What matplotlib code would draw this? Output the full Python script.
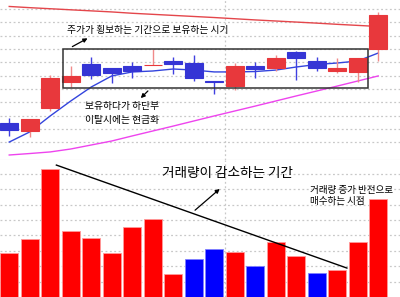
import matplotlib
matplotlib.use('Agg')
import matplotlib.pyplot as plt
from matplotlib.patches import Rectangle

plt.rcParams['font.family'] = ['Noto Sans CJK KR', 'DejaVu Sans']

# 캔들 데이터 (시가, 고가, 저가, 종가)
opens  = [5645, 5585, 5760, 5950, 6090, 6060, 6070, 6080, 6110, 6095, 5960, 5920, 6070, 6060, 6180, 6110, 6035, 6030, 6200]
highs  = [5680, 5675, 6005, 6070, 6140, 6060, 6100, 6200, 6140, 6155, 5960, 6095, 6100, 6155, 6185, 6140, 6130, 6130, 6480]
lows   = [5550, 5540, 5735, 5915, 5975, 5945, 5980, 6080, 6010, 5960, 5862, 5890, 5980, 6035, 5970, 6035, 6020, 5950, 6110]
closes = [5590, 5675, 5980, 6000, 6005, 6020, 6035, 6080, 6090, 5980, 5955, 6070, 6050, 6130, 6130, 6060, 6060, 6130, 6455]

# 이동평균선
ma_short = [5502, 5578, 5698, 5810, 5915, 5998, 6028, 6035, 6050, 6042, 6028, 6028, 6031, 6042, 6065, 6084, 6095, 6110, 6170]
ma_mid   = [5405, 5416, 5428, 5450, 5480, 5510, 5548, 5585, 5622, 5660, 5698, 5735, 5772, 5810, 5848, 5885, 5922, 5960, 5998]
ma_long  = [6519, 6510, 6502, 6494, 6486, 6478, 6468, 6460, 6452, 6444, 6436, 6427, 6418, 6410, 6402, 6394, 6385, 6377, 6369]

# 거래량
volumes = [28400, 37500, 82900, 43100, 38300, 28400, 45500, 50800, 14700, 24500, 31000, 29000, 20300, 35700, 26800, 15800, 17500, 35700, 63800]
vol_colors = ['r', 'r', 'r', 'r', 'r', 'r', 'r', 'r', 'r', 'b', 'b', 'r', 'b', 'r', 'r', 'b', 'r', 'r', 'r']

x = list(range(len(opens)))

fig = plt.figure(figsize=(4, 2.97), dpi=100)
split = 137 / 297
ax = fig.add_axes([0, split, 1, 1 - split])
ax2 = fig.add_axes([0, 0, 1, split])

grid_kw = dict(color='#c8c8c8', linestyle=(0, (1.5, 2)), linewidth=0.9)

# 위쪽 캔들 차트
ax.set_xlim(-0.45, 19.06)
ax.set_ylim(5367.5, 6567.5)
for p in range(5500, 6600, 100):
    ax.axhline(p, zorder=0, **grid_kw)
ax.axvline(10.5, zorder=0, **grid_kw)

ax.plot(x, ma_long, color='#e4464b', lw=1, zorder=1)
ax.plot(x, ma_short, color='#3344dd', lw=1, zorder=1)
ax.plot(x, ma_mid, color='#ee44ee', lw=1, zorder=1)

for i in x:
    o, h, l, c = opens[i], highs[i], lows[i], closes[i]
    if c >= o:
        body, wick = '#e8383c', '#f08a8a'
    else:
        body, wick = '#3535d5', '#4040e0'
    ax.vlines(i, l, h, color=wick, lw=1, zorder=2)
    ax.bar(i, abs(c - o), bottom=min(o, c), width=0.9, color=body,
           edgecolor=body, linewidth=0.8, zorder=3)

ax.add_patch(Rectangle((2.6, 5907.5), 14.9, 292.5, fill=False,
                       edgecolor='#333333', lw=1.1, zorder=4))
ax.text(6.77, 6342, '주가가 횡보하는 기간으로 보유하는 시기', fontsize=7,
        ha='center', va='center')
ax.annotate('', xy=(3.94, 6290), xytext=(2.96, 6208),
            arrowprops=dict(arrowstyle='-|>', color='black', lw=0.9, mutation_scale=6))
ax.text(3.69, 5720, '보유하다가 하단부\n이탈시에는 현금화', fontsize=7,
        ha='left', va='center', linespacing=1.4)
ax.annotate('', xy=(6.32, 5817), xytext=(6.86, 5900),
            arrowprops=dict(arrowstyle='-|>', color='black', lw=0.9, mutation_scale=6))

ax.set_xticks([])
ax.set_yticks([])
for s in ['top', 'left', 'right']:
    ax.spines[s].set_visible(False)
ax.spines['bottom'].set_color('#cccccc')

# 아래쪽 거래량 차트
ax2.set_xlim(-0.45, 19.06)
ax2.set_ylim(0, 89000)
for v in range(10000, 90000, 10000):
    ax2.axhline(v, zorder=0, **grid_kw)
ax2.axvline(10.5, zorder=0, **grid_kw)

bar_fill = {'r': '#ff0000', 'b': '#0000ff'}
bar_edge = {'r': '#ff9a9a', 'b': '#8080ff'}
ax2.bar(x, volumes, width=0.9, color=[bar_fill[c] for c in vol_colors],
        edgecolor=[bar_edge[c] for c in vol_colors], linewidth=0.6, zorder=2)

ax2.plot([2.3, 16.47], [85700, 18800], color='black', lw=1, zorder=3)
ax2.text(10.67, 80500, '거래량이 감소하는 기간', fontsize=9.8, ha='center', va='center')
ax2.annotate('', xy=(10.37, 71400), xytext=(8.96, 55200),
             arrowprops=dict(arrowstyle='-|>', color='black', lw=0.9, mutation_scale=6))
ax2.text(14.67, 65600, '거래량 증가 반전으로\n매수하는 시점', fontsize=6.9,
         ha='left', va='center', linespacing=1.4)

ax2.set_xticks([])
ax2.set_yticks([])
for s in ['top', 'left', 'right', 'bottom']:
    ax2.spines[s].set_visible(False)

fig.savefig('out.png', dpi=100)
